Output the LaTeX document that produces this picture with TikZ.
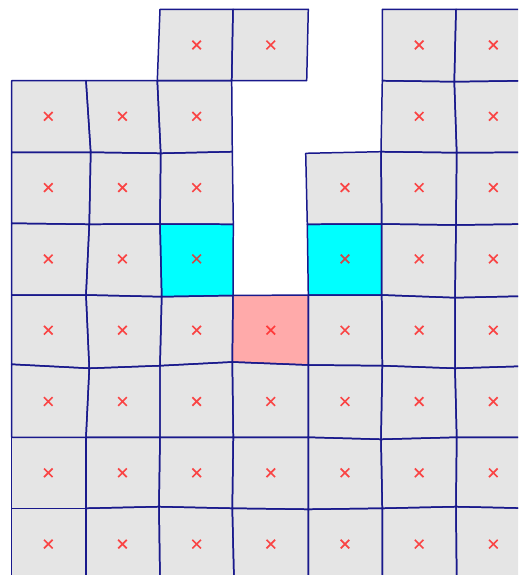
\documentclass[tikz,border=0pt]{standalone}
\definecolor{gridblue}{RGB}{25,25,140}
\definecolor{cellgray}{RGB}{229,229,229}
\definecolor{cellcyan}{RGB}{0,255,255}
\definecolor{cellpink}{RGB}{255,170,170}
\definecolor{markred}{RGB}{255,30,30}
\begin{document}
\begin{tikzpicture}[x=0.02cm,y=-0.02cm,
  cellfill/.style={fill=#1,draw=none},
  celledge/.style={draw=gridblue,line width=0.85pt,line join=round},
  markline/.style={draw=markred,draw opacity=0.8,line width=0.95pt}]
\useasboundingbox (0,0) rectangle (518,575);
\clip (0,0) rectangle (518,575);
% mesh vertices v-column-row
\foreach \i/\j/\x/\y in {
  2/0/160/9.3, 3/0/233/9.3, 4/0/308.3/9.3, 5/0/382.3/9.3, 6/0/456/9.3, 7/0/530/9.3,
  0/1/11.7/80.7, 1/1/86/80.7, 2/1/157.3/80.7, 3/1/231.7/80.7, 4/1/306.7/80.7, 5/1/382.3/80.7, 6/1/454.3/81.7, 7/1/530/80.7,
  0/2/11.7/152.3, 1/2/90.7/152.3, 2/2/160.7/153.3, 3/2/232.3/151.7, 4/2/305.7/153.3, 5/2/381/151.7, 6/2/456.7/152.7, 7/2/530/152.3,
  0/3/11.7/223.3, 1/3/89.3/224.3, 2/3/160/224, 3/3/233.3/224.3, 4/3/307.3/224.3, 5/3/381.7/224, 6/3/456/225, 7/3/530/224,
  0/4/11.7/295, 1/4/86/295, 2/4/161.7/296.7, 3/4/233/295.5, 4/4/308.3/295, 5/4/381.7/295, 6/4/455/297.7, 7/4/530/296,
  0/5/11.7/364.3, 1/5/89.3/368.3, 2/5/160/365.7, 3/5/232.3/362, 4/5/308.3/365, 5/5/382.3/365.7, 6/5/455/368.3, 7/5/530/366,
  0/6/11.7/437.3, 1/6/86/437.3, 2/6/160/437.3, 3/6/233.3/437.3, 4/6/308.3/437.3, 5/6/381/439.3, 6/6/456.7/437.3, 7/6/530/437.3,
  0/7/11.7/508.3, 1/7/86/508.3, 2/7/159/506.7, 3/7/232.3/508.3, 4/7/308.3/509.3, 5/7/382.3/508.3, 6/7/456/506.7, 7/7/530/508.3,
  0/8/11.7/580, 1/8/86/580, 2/8/160/580, 3/8/234/580, 4/8/308.3/580, 5/8/382.3/580, 6/8/456.7/580, 7/8/530/580}
  \coordinate (v-\i-\j) at (\x,\y);
% cells: column/row/fill colour
\def\celllist{2/0/cellgray, 3/0/cellgray, 5/0/cellgray, 6/0/cellgray,
  0/1/cellgray, 1/1/cellgray, 2/1/cellgray, 5/1/cellgray, 6/1/cellgray,
  0/2/cellgray, 1/2/cellgray, 2/2/cellgray, 4/2/cellgray, 5/2/cellgray, 6/2/cellgray,
  0/3/cellgray, 1/3/cellgray, 2/3/cellcyan, 4/3/cellcyan, 5/3/cellgray, 6/3/cellgray,
  0/4/cellgray, 1/4/cellgray, 2/4/cellgray, 3/4/cellpink, 4/4/cellgray, 5/4/cellgray, 6/4/cellgray,
  0/5/cellgray, 1/5/cellgray, 2/5/cellgray, 3/5/cellgray, 4/5/cellgray, 5/5/cellgray, 6/5/cellgray,
  0/6/cellgray, 1/6/cellgray, 2/6/cellgray, 3/6/cellgray, 4/6/cellgray, 5/6/cellgray, 6/6/cellgray,
  0/7/cellgray, 1/7/cellgray, 2/7/cellgray, 3/7/cellgray, 4/7/cellgray, 5/7/cellgray, 6/7/cellgray}
\foreach \i/\j/\c [evaluate=\i as \ii using int(\i+1), evaluate=\j as \jj using int(\j+1)] in \celllist
  \path[cellfill=\c] (v-\i-\j) -- (v-\ii-\j) -- (v-\ii-\jj) -- (v-\i-\jj) -- cycle;
\foreach \i/\j/\c [evaluate=\i as \ii using int(\i+1), evaluate=\j as \jj using int(\j+1)] in \celllist
  \draw[celledge] (v-\i-\j) -- (v-\ii-\j) -- (v-\ii-\jj) -- (v-\i-\jj) -- cycle;
% cell markers at nominal centres
\foreach \i/\j/\c [evaluate=\i as \cx using 48.3+74.17*\i, evaluate=\j as \cy using 45+71.3*\j] in \celllist
  \draw[markline] (\cx-4.3,\cy-4.3) -- (\cx+4.3,\cy+4.3) (\cx-4.3,\cy+4.3) -- (\cx+4.3,\cy-4.3);
\end{tikzpicture}
\end{document}
